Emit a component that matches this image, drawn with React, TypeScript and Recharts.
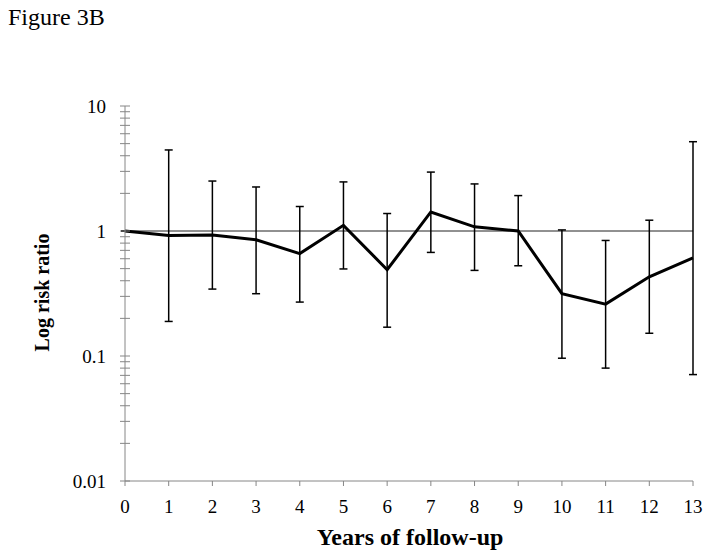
import React from "react";
import {
  ComposedChart,
  Line,
  XAxis,
  YAxis,
  ErrorBar,
  ReferenceLine,
} from "recharts";

const years = [0, 1, 2, 3, 4, 5, 6, 7, 8, 9, 10, 11, 12, 13];
const riskRatio = [1, 0.92, 0.93, 0.85, 0.66, 1.11, 0.49, 1.42, 1.08, 1.0, 0.315, 0.26, 0.43, 0.61];
const lowerCI = [1, 0.189, 0.343, 0.315, 0.27, 0.497, 0.17, 0.674, 0.484, 0.527, 0.096, 0.08, 0.152, 0.071];
const upperCI = [1, 4.45, 2.51, 2.25, 1.57, 2.47, 1.38, 2.96, 2.38, 1.92, 1.02, 0.84, 1.22, 5.18];
const hasCI = [false, true, true, true, true, true, true, true, true, true, true, true, true, true];

const majorTicks = [0.01, 0.1, 1, 10];
const minorMultipliers = [2, 3, 4, 5, 6, 7, 8, 9];
const yTicks: number[] = [];
majorTicks.forEach((m, i) => {
  yTicks.push(m);
  if (i < majorTicks.length - 1) minorMultipliers.forEach((k) => yTicks.push(+(m * k).toPrecision(3)));
});

const title = "Figure 3B";
const xTitle = "Years of follow-up";
const yTitle = "Log risk ratio";

const data = years.map((y, i) => ({
  year: y,
  rr: riskRatio[i],
  err: hasCI[i] ? [riskRatio[i] - lowerCI[i], upperCI[i] - riskRatio[i]] : [0, 0],
}));

const FONT = "'Liberation Serif', 'Times New Roman', serif";
const AXIS = "#868686";

const YTick = (props: any) => {
  const { x, y, payload } = props;
  const v = payload.value;
  const isMajor = majorTicks.some((m) => Math.abs(m - v) < 1e-9);
  return (
    <g>
      <line x1={x - 5} x2={x + 5} y1={y} y2={y} stroke={AXIS} strokeWidth={1} />
      {isMajor && (
        <text x={x - 19} y={y + 6.5} textAnchor="end" fontFamily={FONT} fontSize={19} fill="#000">
          {String(v)}
        </text>
      )}
    </g>
  );
};

const XTick = (props: any) => {
  const { x, y, payload } = props;
  return (
    <text x={x} y={y + 26.5} textAnchor="middle" fontFamily={FONT} fontSize={19} fill="#000">
      {String(payload.value)}
    </text>
  );
};

export default function App() {
  return (
    <div style={{ position: "absolute", left: 0, top: 0, width: 713, height: 559, background: "#fff" }}>
      <ComposedChart
        width={713}
        height={559}
        data={data}
        margin={{ top: 106, right: 20, left: 45, bottom: 48 }}
      >
        <XAxis
          dataKey="year"
          type="number"
          domain={[0, 13]}
          ticks={years}
          interval={0}
          tickSize={5}
          tickMargin={0}
          height={30}
          axisLine={{ stroke: AXIS, strokeWidth: 1 }}
          tickLine={{ stroke: AXIS, strokeWidth: 1 }}
          tick={<XTick />}
        />
        <YAxis
          type="number"
          scale="log"
          domain={[0.01, 10]}
          allowDataOverflow
          ticks={yTicks}
          interval={0}
          width={80}
          tickSize={0}
          tickMargin={0}
          axisLine={{ stroke: AXIS, strokeWidth: 1 }}
          tickLine={false}
          tick={<YTick />}
        />
        <ReferenceLine y={1} stroke="#222" strokeWidth={1} ifOverflow="extendDomain" />
        <Line
          dataKey="rr"
          stroke="#000"
          strokeWidth={3}
          dot={false}
          activeDot={false}
          isAnimationActive={false}
          type="linear"
        >
          <ErrorBar dataKey="err" stroke="#000" strokeWidth={1.5} width={4} isAnimationActive={false} />
        </Line>
      </ComposedChart>
      <svg
        width={713}
        height={559}
        style={{ position: "absolute", left: 0, top: 0, pointerEvents: "none" }}
      >
        <text x={8} y={24.5} fontFamily={FONT} fontSize={24} fill="#000">
          {title}
        </text>
        <text x={410} y={545} textAnchor="middle" fontFamily={FONT} fontSize={24} fontWeight="bold" fill="#000">
          {xTitle}
        </text>
        <text
          x={49}
          y={292.5}
          textAnchor="middle"
          fontFamily={FONT}
          fontSize={20}
          fontWeight="bold"
          fill="#000"
          transform="rotate(-90 49 292.5)"
        >
          {yTitle}
        </text>
      </svg>
    </div>
  );
}
